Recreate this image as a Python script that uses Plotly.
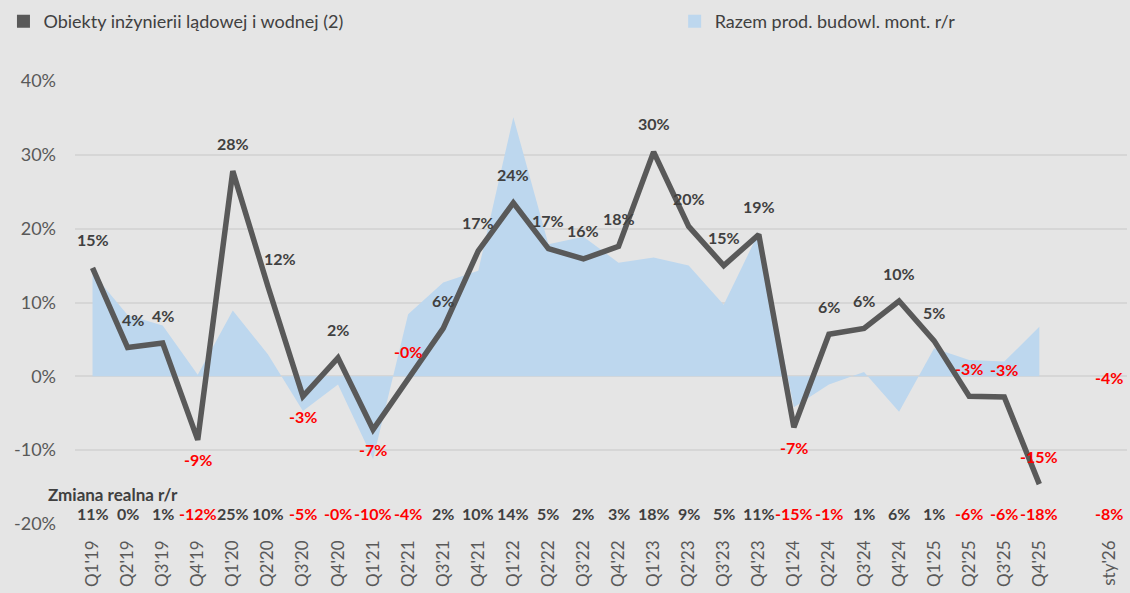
import plotly.graph_objects as go

# ---------------- data ----------------
quarters = ["Q1'19", "Q2'19", "Q3'19", "Q4'19", "Q1'20", "Q2'20", "Q3'20", "Q4'20",
            "Q1'21", "Q2'21", "Q3'21", "Q4'21", "Q1'22", "Q2'22", "Q3'22", "Q4'22",
            "Q1'23", "Q2'23", "Q3'23", "Q4'23", "Q1'24", "Q2'24", "Q3'24", "Q4'24",
            "Q1'25", "Q2'25", "Q3'25", "Q4'25"]
categories = quarters + [" ", "sty'26"]

# Obiekty inżynierii lądowej i wodnej (2), r/r
civil_eng = [0.147, 0.039, 0.045, -0.086, 0.278, 0.122, -0.027, 0.025,
             -0.072, -0.004, 0.065, 0.170, 0.235, 0.173, 0.159, 0.176,
             0.304, 0.203, 0.150, 0.192, -0.069, 0.057, 0.065, 0.102,
             0.048, -0.027, -0.028, -0.146, None, -0.04]

# Razem prod. budowl. mont. r/r
total_constr = [0.140, 0.083, 0.069, 0.002, 0.089, 0.030, -0.047, -0.011,
                -0.112, 0.084, 0.127, 0.143, 0.351, 0.179, 0.189, 0.154,
                0.161, 0.150, 0.097, 0.195, -0.042, -0.011, 0.006, -0.048,
                0.038, 0.022, 0.020, 0.067]

# Zmiana realna r/r (bottom row)
real_change = [0.11, 0.002, 0.01, -0.12, 0.25, 0.10, -0.05, -0.003,
               -0.10, -0.04, 0.02, 0.10, 0.14, 0.05, 0.02, 0.03,
               0.18, 0.09, 0.05, 0.11, -0.15, -0.01, 0.01, 0.06,
               0.01, -0.06, -0.06, -0.18, None, -0.08]

y_ticks = [-0.2, -0.1, 0.0, 0.1, 0.2, 0.3, 0.4]

# label placement style: categories whose label sits below the point
labels_below = {"Q4'19", "Q3'20", "Q1'21", "Q1'24"}
label_xshift = {"Q2'20": 12, "Q2'19": 5}

# ---------------- style ----------------
FONT = "Lato, Carlito, Calibri, 'Noto Sans', sans-serif"
BG = "#E5E5E5"
GRID = "#D6D6D6"
LINE_COL = "#595959"
AREA_COL = "#BDD7EE"
POS_COL = "#404040"
NEG_COL = "#FF0000"


def fmt(v):
    return f"{v * 100:.0f}%"


fig = go.Figure()

fig.add_trace(go.Scatter(
    x=quarters, y=total_constr, mode="lines", fill="tozeroy",
    fillcolor=AREA_COL, line=dict(width=0, color=AREA_COL),
    showlegend=False, hoverinfo="skip"))

fig.add_trace(go.Scatter(
    x=categories, y=civil_eng, mode="lines",
    line=dict(color=LINE_COL, width=5.5), connectgaps=False,
    showlegend=False))

# legend entries (square symbols), two separate legends
fig.add_trace(go.Scatter(x=[None], y=[None], mode="markers", legend="legend",
                         marker=dict(symbol="square", size=13, color=LINE_COL),
                         name="Obiekty inżynierii lądowej i wodnej (2)"))
fig.add_trace(go.Scatter(x=[None], y=[None], mode="markers", legend="legend2",
                         marker=dict(symbol="square", size=13, color=AREA_COL),
                         name="Razem prod. budowl. mont. r/r"))

annotations = []
for cat, v in zip(categories, civil_eng):
    if v is None:
        continue
    below = cat in labels_below
    annotations.append(dict(
        x=cat, y=v, xref="x", yref="y", text=f"<b>{fmt(v)}</b>",
        showarrow=False, yshift=-20 if below else 28,
        xshift=label_xshift.get(cat, 0),
        font=dict(family=FONT, size=16, color=NEG_COL if v < 0 else POS_COL)))

for cat, v in zip(categories, real_change):
    if v is None:
        continue
    annotations.append(dict(
        x=cat, y=y_ticks[0], xref="x", yref="y", text=f"<b>{fmt(v)}</b>",
        showarrow=False, yshift=11, yanchor="middle",
        font=dict(family=FONT, size=16, color=NEG_COL if v < 0 else POS_COL)))

annotations.append(dict(
    x=-0.5, y=y_ticks[0], xref="x", yref="y", text="<b>Zmiana realna r/r</b>",
    showarrow=False, xanchor="left", yanchor="middle", xshift=-29, yshift=30,
    font=dict(family=FONT, size=17, color=POS_COL)))

legend_common = dict(orientation="h", yanchor="middle", y=1.134, xanchor="left",
                     font=dict(family=FONT, size=18, color=POS_COL),
                     bgcolor="rgba(0,0,0,0)", borderwidth=0)

fig.update_layout(
    width=1130, height=593,
    margin=dict(l=75, r=3, t=77, b=69),
    paper_bgcolor=BG, plot_bgcolor=BG,
    font=dict(family=FONT, color="#595959"),
    showlegend=True,
    legend=dict(x=-0.068, **legend_common),
    legend2=dict(x=0.570, **legend_common),
    annotations=annotations,
    xaxis=dict(type="category", categoryorder="array", categoryarray=categories,
               range=[-0.5, len(categories) - 0.5], showgrid=False, zeroline=False,
               showline=False, tickangle=-90, ticks="",
               tickfont=dict(family=FONT, size=17, color="#595959"),
               ticklabelstandoff=12),
    yaxis=dict(range=[y_ticks[0], y_ticks[-1]], tickvals=y_ticks,
               ticktext=[fmt(v) for v in y_ticks],
               showgrid=True, gridcolor=GRID, gridwidth=1.5,
               zeroline=False, showline=False, ticks="",
               tickfont=dict(family=FONT, size=18, color="#595959"),
               ticklabelstandoff=18),
)

fig.write_html("out.html", config={"displayModeBar": False},
               post_script="document.body.style.margin='0';document.body.style.overflow='hidden';")
